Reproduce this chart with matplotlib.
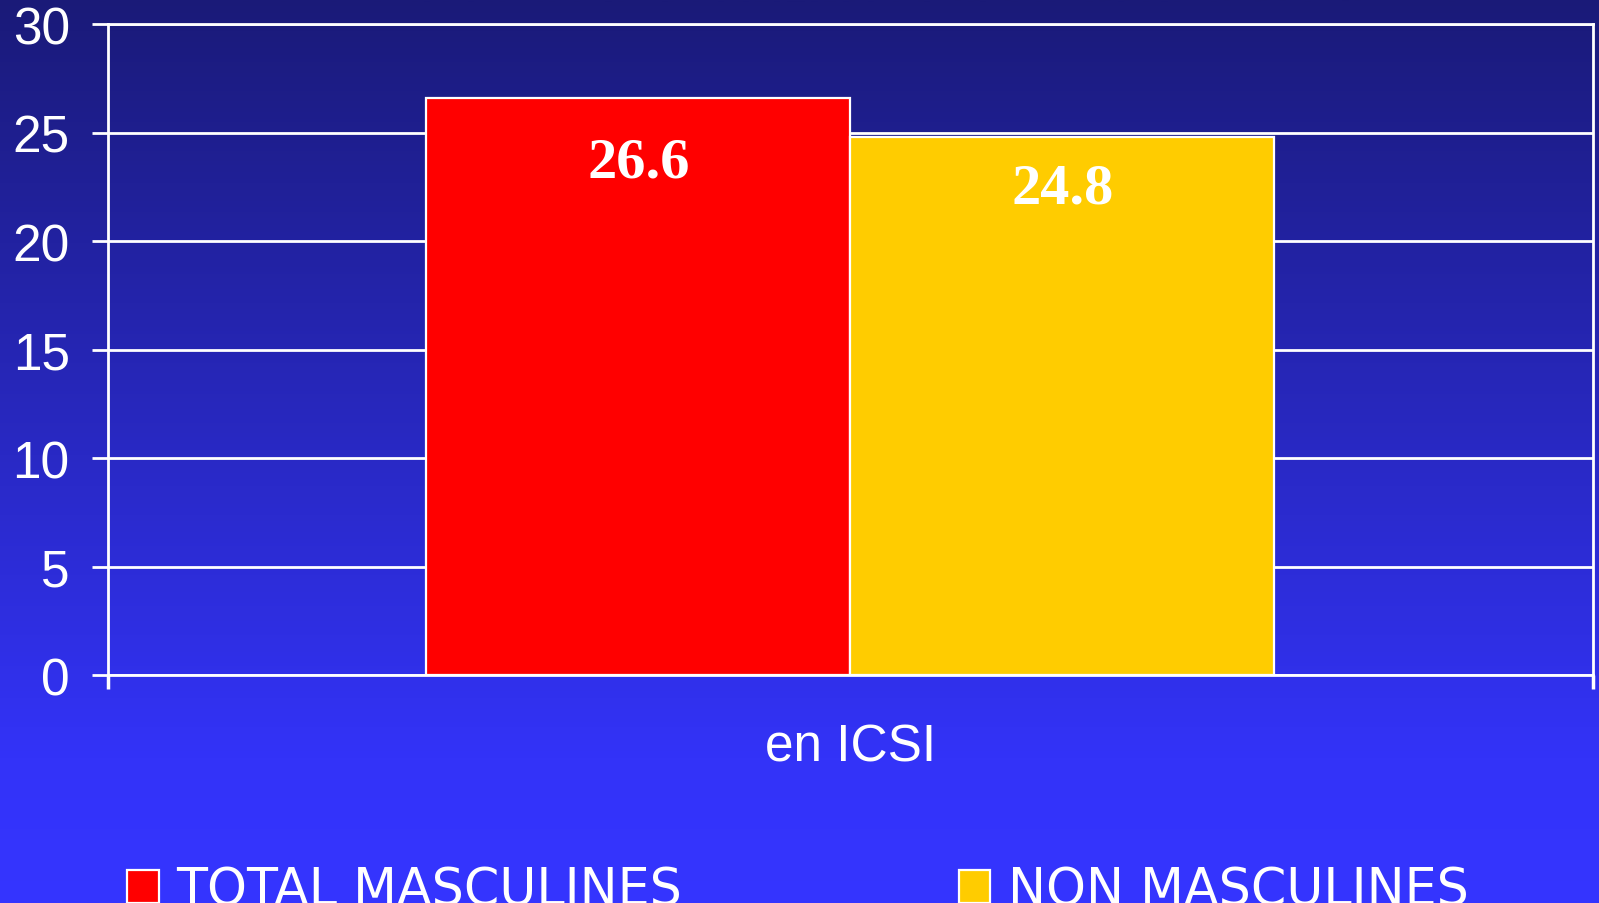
import matplotlib
matplotlib.use("Agg")
import matplotlib.pyplot as plt
import matplotlib.patches as mpatches
import numpy as np
from matplotlib.colors import LinearSegmentedColormap

# data
category = "en ICSI"
series = ["TOTAL MASCULINES", "NON MASCULINES"]
values = [26.6, 24.8]
label_y = [23.6, 22.4]   # where the value labels sit inside the bars
colors = ["#ff0000", "#ffcc00"]
yticks = [0, 5, 10, 15, 20, 25, 30]

fig = plt.figure(figsize=(15.99, 9.04), dpi=100)

# background gradient (dark navy at top -> bright blue at bottom)
bg = fig.add_axes([0, 0, 1, 1], zorder=-10)
cmap = LinearSegmentedColormap.from_list(
    "bg", [(0.0, "#3535ff"), (0.16, "#3333f8"), (1.0, "#1a1a78")])
grad = np.linspace(0, 1, 512).reshape(-1, 1)
bg.imshow(grad, aspect="auto", cmap=cmap, origin="lower", extent=[0, 1, 0, 1])
bg.axis("off")

ax = fig.add_axes([0.0675, 0.2522, 0.9287, 0.7201])
ax.patch.set_alpha(0)

width = 0.2855
pos = [-width / 2, width / 2]
bars = ax.bar(pos, values, width=width, color=colors, edgecolor="white",
              linewidth=1.6, zorder=3)
for x, y, v in zip(pos, label_y, values):
    ax.text(x, y, f"{v}", ha="center", va="center", color="white",
            fontsize=42, fontweight="bold", family="Liberation Serif", zorder=4)

ax.set_xlim(-0.5, 0.5)
ax.set_ylim(0, 30)
ax.set_yticks(yticks)
ax.yaxis.grid(True, color="white", linewidth=2, zorder=1)
ax.set_axisbelow(True)
ax.tick_params(axis="y", colors="white", labelsize=37, length=11.5, width=2, pad=16)
ax.set_xticks([-0.5, 0.5])
ax.set_xticklabels([])
ax.tick_params(axis="x", colors="white", length=10, width=2.5)
for side in ["left", "right", "top", "bottom"]:
    ax.spines[side].set_color("white")
    ax.spines[side].set_linewidth(2)
for lab in ax.get_yticklabels():
    lab.set_family("Liberation Sans")

ax.text(0, -3.3, category, ha="center", va="center", color="white",
        fontsize=37, family="Liberation Sans")

handles = [mpatches.Patch(facecolor=c, edgecolor="white", linewidth=1.6) for c in colors]
leg = fig.legend(handles, series, loc="lower left", bbox_to_anchor=(0.067, -0.036),
                 ncol=2, frameon=False, handlelength=0.62,
                 handleheight=0.62, handletextpad=0.35, columnspacing=5.45,
                 labelcolor="white", borderaxespad=0,
                 prop={"family": "DejaVu Sans", "size": 36.5})

fig.savefig("out.png", dpi=100)
